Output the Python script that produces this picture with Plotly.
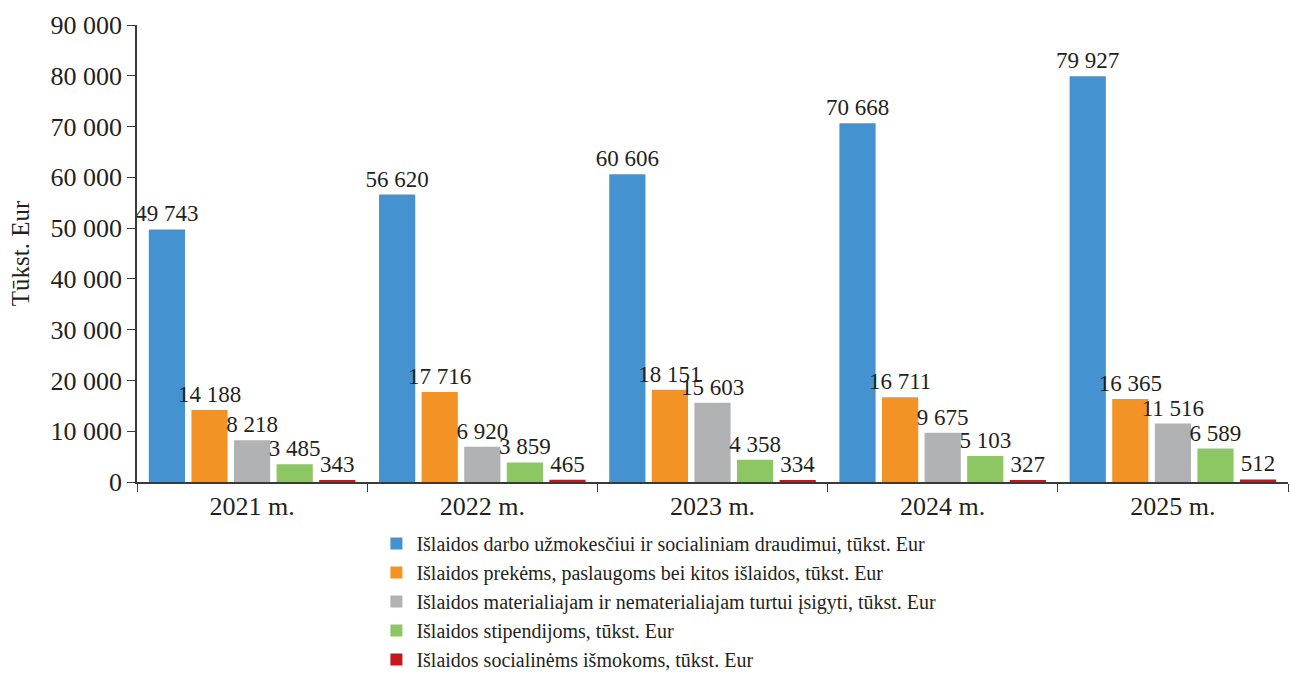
import plotly.graph_objects as go

years = ["2021 m.", "2022 m.", "2023 m.", "2024 m.", "2025 m."]

series_names = [
    "Išlaidos darbo užmokesčiui ir socialiniam draudimui, tūkst. Eur",
    "Išlaidos prekėms, paslaugoms bei kitos išlaidos, tūkst. Eur",
    "Išlaidos materialiajam ir nematerialiajam turtui įsigyti, tūkst. Eur",
    "Išlaidos stipendijoms, tūkst. Eur",
    "Išlaidos socialinėms išmokoms, tūkst. Eur",
]

salaries = [49743, 56620, 60606, 70668, 79927]
goods_services = [14188, 17716, 18151, 16711, 16365]
assets = [8218, 6920, 15603, 9675, 11516]
scholarships = [3485, 3859, 4358, 5103, 6589]
social_benefits = [343, 465, 334, 327, 512]

colors = ["#4493d0", "#f39325", "#b1b2b4", "#8cc763", "#c4161c"]

FONT = "Liberation Serif, Times New Roman, serif"
TEXT_COLOR = "#231f20"

# Page geometry: plot frame from the top margin down to the x axis line
TOP, BOTTOM = 25, 0
HEIGHT = 675
AXIS_Y = 482
LEGEND_TOP = 524
inner_h = HEIGHT - TOP - BOTTOM
y_domain_start = (HEIGHT - BOTTOM - AXIS_Y) / inner_h
legend_y = (HEIGHT - BOTTOM - LEGEND_TOP) / inner_h

fig = go.Figure()
for name, vals, col in zip(
    series_names,
    [salaries, goods_services, assets, scholarships, social_benefits],
    colors,
):
    fig.add_trace(
        go.Bar(
            x=years,
            y=vals,
            name=name,
            marker=dict(color=col, line=dict(width=0)),
            texttemplate="%{y:,.0f}",
            textposition="outside",
            constraintext="none",
            cliponaxis=False,
            textfont=dict(family=FONT, size=23, color=TEXT_COLOR),
        )
    )

fig.update_layout(
    width=1290,
    height=HEIGHT,
    barmode="group",
    bargap=0.075,
    bargroupgap=0.15,
    separators=", ",
    plot_bgcolor="white",
    paper_bgcolor="white",
    margin=dict(l=137, r=2, t=TOP, b=BOTTOM, autoexpand=False),
    font=dict(family=FONT, color=TEXT_COLOR),
    showlegend=True,
    legend=dict(
        x=0.208,
        y=legend_y,
        xanchor="left",
        yanchor="top",
        orientation="v",
        font=dict(family=FONT, size=20, color=TEXT_COLOR),
        itemsizing="constant",
        itemwidth=30,
        tracegroupgap=0,
        bgcolor="rgba(0,0,0,0)",
    ),
    xaxis=dict(
        showline=True,
        linecolor="#3a3a3a",
        linewidth=1.5,
        ticks="outside",
        tickson="boundaries",
        ticklen=8,
        tickcolor="#3a3a3a",
        tickfont=dict(family=FONT, size=26, color=TEXT_COLOR),
        showgrid=False,
        anchor="y",
        automargin=False,
    ),
    yaxis=dict(
        domain=[y_domain_start, 1],
        range=[0, 90000],
        dtick=10000,
        tickformat=",d",
        showline=True,
        linecolor="#3a3a3a",
        linewidth=1.5,
        ticks="outside",
        ticklen=8,
        tickcolor="#3a3a3a",
        tickfont=dict(family=FONT, size=26, color=TEXT_COLOR),
        showgrid=False,
        zeroline=False,
        automargin=False,
        title=dict(
            text="Tūkst. Eur",
            font=dict(family=FONT, size=25, color=TEXT_COLOR),
            standoff=14,
        ),
    ),
)

fig.write_html("out.html")
